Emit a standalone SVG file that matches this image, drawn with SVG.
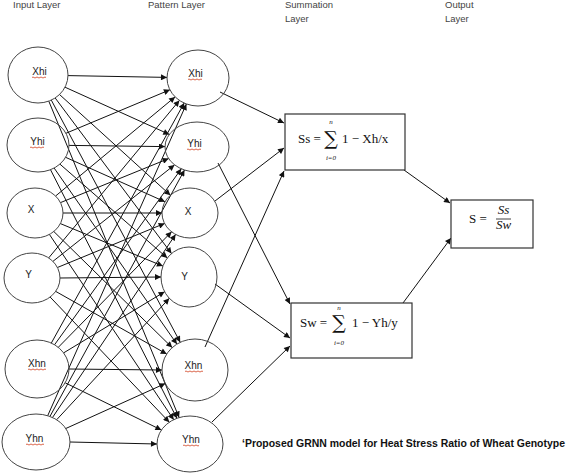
<svg xmlns="http://www.w3.org/2000/svg" width="566" height="476" viewBox="0 0 566 476">
<style>
.bg{fill:#fff}
.layer{font-family:"Liberation Sans",Arial,sans-serif;font-size:9.5px;fill:#444}
.node ellipse{fill:none;stroke:#444;stroke-width:1}
.lbl{font-family:"Liberation Sans",Arial,sans-serif;font-size:10px;fill:#222;text-anchor:middle}
.sq{fill:none;stroke:#d04020;stroke-width:0.8}
.box rect{fill:#fff;stroke:#333;stroke-width:1.2}
.math{font-family:"Liberation Serif","Times New Roman",serif;font-size:13px;fill:#111}
.sm{font-family:"Liberation Serif","Times New Roman",serif;font-size:7px;fill:#111;font-style:italic;text-anchor:middle}
.sig{font-family:"DejaVu Serif","Liberation Serif",serif;font-size:19px;fill:#111;text-anchor:middle}
.it{font-style:italic}
.conn line{stroke:#111;stroke-width:1;marker-end:url(#ah)}
.cap{font-family:"Liberation Sans",Arial,sans-serif;font-size:10px;font-weight:bold;fill:#111}
</style>
<defs>
<marker id="ah" viewBox="0 0 10 10" refX="10" refY="5" markerWidth="8" markerHeight="6" markerUnits="userSpaceOnUse" orient="auto">
<path d="M0,0 L10,5 L0,10 z" fill="#111"/>
</marker>
</defs>
<rect class="bg" x="0" y="0" width="566" height="476"/>

<g id="layer-labels">
<text class="layer" x="13" y="8">Input Layer</text>
<text class="layer" x="148" y="8">Pattern Layer</text>
<text class="layer" x="285" y="8">Summation</text>
<text class="layer" x="285" y="22">Layer</text>
<text class="layer" x="445" y="8">Output</text>
<text class="layer" x="445" y="22">Layer</text>
</g>

<g id="connectors" class="conn">
<line x1="68" y1="75.6" x2="167" y2="77.4"/>
<line x1="65" y1="87.2" x2="169.3" y2="134.4"/>
<line x1="59.5" y1="94.5" x2="170.4" y2="195.2"/>
<line x1="55.2" y1="98" x2="171.5" y2="253.6"/>
<line x1="51.3" y1="100.1" x2="180.2" y2="342.2"/>
<line x1="48.8" y1="101.2" x2="179.1" y2="417.5"/>
<line x1="65.9" y1="133.3" x2="169.9" y2="89.8"/>
<line x1="69" y1="145.4" x2="165" y2="146.6"/>
<line x1="65.6" y1="157.3" x2="165" y2="201.8"/>
<line x1="59.9" y1="164.1" x2="167.3" y2="258"/>
<line x1="54.1" y1="168" x2="176.9" y2="344.1"/>
<line x1="50.5" y1="169.7" x2="176.9" y2="418.3"/>
<line x1="55.6" y1="196" x2="175.1" y2="96.9"/>
<line x1="60.5" y1="202.6" x2="168.6" y2="158.6"/>
<line x1="63" y1="213" x2="162" y2="213"/>
<line x1="60.4" y1="223.6" x2="162.9" y2="266.1"/>
<line x1="53.8" y1="231.5" x2="172.2" y2="347.6"/>
<line x1="49.4" y1="234.4" x2="173.7" y2="419.7"/>
<line x1="48.7" y1="257.9" x2="179.4" y2="100.4"/>
<line x1="52.9" y1="261.4" x2="174.5" y2="164.9"/>
<line x1="57.4" y1="267.5" x2="164.7" y2="223.4"/>
<line x1="60" y1="278" x2="161" y2="277"/>
<line x1="55.7" y1="291.4" x2="166.7" y2="354"/>
<line x1="50.1" y1="297" x2="169.3" y2="422.2"/>
<line x1="51.3" y1="343.1" x2="184.2" y2="103"/>
<line x1="54.5" y1="344.8" x2="181.3" y2="168.8"/>
<line x1="58.3" y1="347.3" x2="171.6" y2="231.8"/>
<line x1="63.6" y1="352.9" x2="164.6" y2="291.8"/>
<line x1="69" y1="369" x2="162" y2="370"/>
<line x1="65.2" y1="382.8" x2="161.4" y2="430"/>
<line x1="47.7" y1="415.7" x2="186.4" y2="104"/>
<line x1="49.9" y1="416.5" x2="184.5" y2="170"/>
<line x1="52.5" y1="417.5" x2="175.6" y2="234.4"/>
<line x1="56.7" y1="419.7" x2="169.3" y2="298.3"/>
<line x1="65.8" y1="428.5" x2="165.3" y2="383.5"/>
<line x1="70" y1="442" x2="157" y2="444"/>
<!-- pattern to summation -->
<line x1="220" y1="92" x2="284" y2="123"/>
<line x1="215" y1="201" x2="284" y2="148"/>
<line x1="205" y1="347" x2="284" y2="171"/>
<line x1="218" y1="163" x2="290" y2="304"/>
<line x1="215" y1="284" x2="290" y2="338"/>
<line x1="212" y1="422" x2="290" y2="346"/>
<!-- summation to output -->
<line x1="404" y1="170" x2="450" y2="203"/>
<line x1="403" y1="303" x2="451" y2="238"/>
</g>

<g id="in-xhi" class="node"><ellipse cx="38" cy="75" rx="30" ry="28"/><text class="lbl" x="39.5" y="75">Xhi</text><path class="sq" d="M32,77.5 q1,-1 2,0 t2,0 t2,0 t2,0 t2,0 t2,0 t2,0"/></g>
<g id="in-yhi" class="node"><ellipse cx="38" cy="145" rx="31" ry="27"/><text class="lbl" x="37.5" y="145">Yhi</text><path class="sq" d="M30,147.5 q1,-1 2,0 t2,0 t2,0 t2,0 t2,0 t2,0 t2,0"/></g>
<g id="in-x" class="node"><ellipse cx="35" cy="213" rx="28" ry="25"/><text class="lbl" x="31" y="213">X</text></g>
<g id="in-y" class="node"><ellipse cx="32" cy="278" rx="28" ry="25"/><text class="lbl" x="28.5" y="278">Y</text></g>
<g id="in-xhn" class="node"><ellipse cx="37" cy="369" rx="32" ry="29"/><text class="lbl" x="37" y="367">Xhn</text><path class="sq" d="M28,369.5 q1,-1 2,0 t2,0 t2,0 t2,0 t2,0 t2,0 t2,0 t2,0 t2,0"/></g>
<g id="in-yhn" class="node"><ellipse cx="36" cy="442" rx="34" ry="28"/><text class="lbl" x="34.5" y="442">Yhn</text><path class="sq" d="M26,444.5 q1,-1 2,0 t2,0 t2,0 t2,0 t2,0 t2,0 t2,0 t2,0 t2,0"/></g>

<g id="pat-xhi" class="node"><ellipse cx="198" cy="78" rx="31" ry="28"/><text class="lbl" x="195.5" y="77">Xhi</text><path class="sq" d="M188,79.5 q1,-1 2,0 t2,0 t2,0 t2,0 t2,0 t2,0 t2,0"/></g>
<g id="pat-yhi" class="node"><ellipse cx="197" cy="147" rx="32" ry="25"/><text class="lbl" x="194.5" y="147">Yhi</text><path class="sq" d="M187,149.5 q1,-1 2,0 t2,0 t2,0 t2,0 t2,0 t2,0 t2,0"/></g>
<g id="pat-x" class="node"><ellipse cx="190" cy="213" rx="28" ry="25"/><text class="lbl" x="188" y="215">X</text></g>
<g id="pat-y" class="node"><ellipse cx="189" cy="277" rx="28" ry="30"/><text class="lbl" x="184.5" y="280">Y</text></g>
<g id="pat-xhn" class="node"><ellipse cx="195" cy="370" rx="33" ry="31"/><text class="lbl" x="193.5" y="369">Xhn</text><path class="sq" d="M185,371.5 q1,-1 2,0 t2,0 t2,0 t2,0 t2,0 t2,0 t2,0 t2,0 t2,0"/></g>
<g id="pat-yhn" class="node"><ellipse cx="190" cy="444" rx="33" ry="28"/><text class="lbl" x="191" y="443">Yhn</text><path class="sq" d="M183,445.5 q1,-1 2,0 t2,0 t2,0 t2,0 t2,0 t2,0 t2,0 t2,0"/></g>

<g id="sum-ss" class="box">
<rect x="285" y="114" width="120" height="56"/>
<text class="math" x="298" y="143">Ss =</text>
<text class="sig" x="331" y="145">∑</text>
<text class="sm" x="331" y="124">n</text>
<text class="sm" x="331" y="160">i=0</text>
<text class="math" x="342" y="143">1 − Xh/x</text>
</g>
<g id="sum-sw" class="box">
<rect x="291" y="303" width="121" height="55"/>
<text class="math" x="300" y="327">Sw =</text>
<text class="sig" x="339" y="329">∑</text>
<text class="sm" x="339" y="310">n</text>
<text class="sm" x="339" y="345">i=0</text>
<text class="math" x="352" y="327">1 − Yh/y</text>
</g>
<g id="output" class="box">
<rect x="451" y="200" width="82" height="48"/>
<text class="math" x="469" y="223">S =</text>
<text class="math it" x="503.5" y="214" text-anchor="middle">Ss</text>
<line x1="496" y1="219" x2="511" y2="219" stroke="#111" stroke-width="0.8"/>
<text class="math it" x="503.5" y="229" text-anchor="middle">Sw</text>
</g>

<text class="cap" x="242" y="447" textLength="323" lengthAdjust="spacingAndGlyphs">‘Proposed GRNN model for Heat Stress Ratio of Wheat Genotype</text>
</svg>
